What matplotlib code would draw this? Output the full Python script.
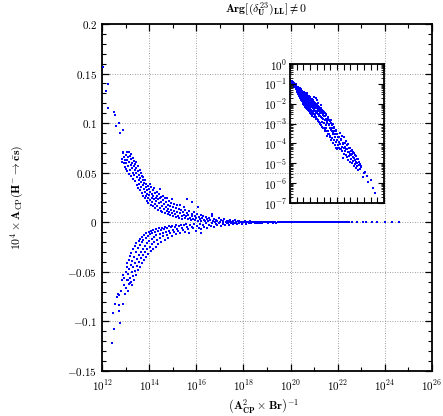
"""
Assimetria CP no canal H- -> c s (grafico principal + inset em log-log)
"""
import numpy as np
import matplotlib
matplotlib.use('Agg')
import matplotlib.pyplot as plt
from matplotlib.ticker import FixedLocator, FuncFormatter, LogLocator, MultipleLocator, NullFormatter

plt.rcParams['mathtext.fontset'] = 'cm'
plt.rcParams['font.family'] = 'serif'
plt.rcParams['font.serif'] = ['DejaVu Serif']

# Dados: expoente de x = (A_CP^2 x Br)^-1 e valor 10^4 x A_CP
# ramo superior (A_CP > 0)
up_logx = [12.06, 12.16, 12.27, 12.25, 12.51, 12.54, 12.58, 12.72, 12.76, 12.88,
           12.84, 12.86, 12.88, 12.90, 12.92, 12.94, 12.96, 12.98, 13.00, 13.01,
           13.03, 13.05, 13.06, 13.08, 13.10, 13.11, 13.13, 13.14, 13.16, 13.18,
           13.19, 13.21, 13.22, 13.24, 13.25, 13.27, 13.28, 13.30, 13.31, 13.33,
           13.34, 13.36, 13.37, 13.39, 13.40, 13.42, 13.43, 13.45, 13.46, 13.48,
           13.49, 13.51, 13.52, 13.54, 13.55, 13.57, 13.58, 13.60, 13.61, 13.63,
           13.64, 13.66, 13.67, 13.69, 13.70, 13.72, 13.73, 13.75, 13.76, 13.78,
           13.79, 13.81, 13.82, 13.84, 13.85, 13.87, 13.88, 13.90, 13.91, 13.93,
           13.94, 13.96, 13.97, 13.99, 14.00, 14.02, 14.03, 14.05, 14.06, 14.08,
           14.10, 14.11, 14.13, 14.15, 14.16, 14.18, 14.20, 14.21, 14.23, 14.25,
           14.26, 14.28, 14.30, 14.32, 14.33, 14.35, 14.37, 14.39, 14.40, 14.42,
           14.44, 14.46, 14.47, 14.49, 14.50, 14.52, 14.54, 14.56, 14.58, 14.60,
           14.62, 14.64, 14.66, 14.68, 14.70, 14.72, 14.74, 14.76, 14.78, 14.80,
           14.82, 14.84, 14.86, 14.88, 14.90, 14.92, 14.94, 14.96, 14.98, 15.00,
           15.03, 15.05, 15.07, 15.10, 15.12, 15.15, 15.17, 15.20, 15.22, 15.25,
           15.28, 15.30, 15.32, 15.35, 15.38, 15.40, 15.43, 15.46, 15.48, 15.50,
           15.53, 15.56, 15.60, 15.60, 15.63, 15.66, 15.70, 15.73, 15.76, 15.80,
           15.80, 15.83, 15.87, 15.90, 15.93, 15.96, 16.00, 16.03, 16.06, 16.09,
           16.10, 16.14, 16.18, 16.22, 16.26, 16.30, 16.34, 16.38, 16.42, 16.46,
           16.50, 16.55, 16.60, 16.65, 16.68, 16.72, 16.76, 16.80, 16.85, 16.90,
           16.95, 17.00, 17.06, 17.12, 17.18, 17.25, 17.30, 17.36, 17.42, 17.50,
           17.56, 17.63, 17.70, 17.76, 17.83, 17.90, 17.97, 18.05, 18.12, 18.20,
           18.28, 18.36, 18.45, 18.55, 18.65, 18.75, 18.85, 18.95, 19.05]
up_val = [0.157, 0.132, 0.139, 0.115, 0.111, 0.108, 0.0975, 0.100, 0.090, 0.093,
          0.0606, 0.064, 0.0695, 0.0713, 0.060, 0.066, 0.056, 0.0625, 0.068, 0.054,
          0.0595, 0.0705, 0.063, 0.052, 0.066, 0.057, 0.0713, 0.049, 0.061, 0.067,
          0.053, 0.058, 0.064, 0.047, 0.069, 0.055, 0.060, 0.050, 0.065, 0.044,
          0.057, 0.062, 0.048, 0.053, 0.059, 0.042, 0.050, 0.055, 0.061, 0.038,
          0.046, 0.052, 0.035, 0.057, 0.043, 0.048, 0.039, 0.053, 0.033, 0.045,
          0.050, 0.036, 0.041, 0.047, 0.030, 0.038, 0.043, 0.027, 0.046, 0.034,
          0.040, 0.024, 0.031, 0.043, 0.036, 0.027, 0.039, 0.021, 0.033, 0.029,
          0.037, 0.024, 0.019, 0.034, 0.028, 0.039, 0.022, 0.031, 0.017, 0.036,
          0.025, 0.029, 0.020, 0.033, 0.016, 0.027, 0.023, 0.035, 0.018, 0.030,
          0.014, 0.025, 0.021, 0.031, 0.016, 0.027, 0.012, 0.023, 0.019, 0.029,
          0.014, 0.034, 0.024, 0.011, 0.020, 0.026, 0.016, 0.010, 0.022, 0.027,
          0.013, 0.018, 0.024, 0.009, 0.015, 0.020, 0.011, 0.025, 0.017, 0.008,
          0.013, 0.021, 0.010, 0.016, 0.007, 0.019, 0.012, 0.023, 0.009, 0.015,
          0.006, 0.018, 0.011, 0.008, 0.014, 0.005, 0.017, 0.010, 0.0065, 0.013,
          0.0045, 0.017, 0.009, 0.012, 0.006, 0.0035, 0.010, 0.015, 0.0075, 0.0045,
          0.012, 0.006, 0.023, 0.0095, 0.003, 0.0075, 0.011, 0.0045, 0.0028, 0.020,
          0.0085, 0.006, 0.0035, 0.010, 0.0022, 0.0065, 0.0045, 0.0085, 0.0018, 0.015,
          0.0055, 0.003, 0.0075, 0.0015, 0.0048, 0.0068, 0.0025, 0.0012, 0.0055, 0.0035,
          0.0009, 0.0045, 0.0022, 0.006, 0.0082, 0.0012, 0.0035, 0.0007, 0.0028, 0.0018,
          0.0042, 0.0006, 0.0024, 0.0011, 0.0033, 0.0005, 0.0017, 0.0008, 0.0026, 0.0004,
          0.0013, 0.0020, 0.0003, 0.0009, 0.0015, 0.0002, 0.0006, 0.0011, 0.00015, 0.0004,
          0.0008, 0.0001, 0.0003, 0.0006, 0.00008, 0.0002, 0.0004, 0.00005, 0.00015]

# ramo inferior (A_CP < 0)
lo_logx = [12.42, 12.50, 12.78, 12.45, 12.74, 12.57, 12.71, 12.90, 12.62, 12.72,
           12.79, 12.66, 12.85, 12.98, 12.95, 12.93, 12.90, 13.19, 13.26, 13.12,
           13.00, 13.02, 13.04, 13.06, 13.08, 13.09, 13.11, 13.13, 13.15, 13.16,
           13.18, 13.20, 13.21, 13.23, 13.25, 13.26, 13.28, 13.30, 13.31, 13.33,
           13.35, 13.36, 13.38, 13.40, 13.41, 13.43, 13.45, 13.46, 13.48, 13.50,
           13.51, 13.53, 13.55, 13.56, 13.58, 13.60, 13.61, 13.63, 13.65, 13.66,
           13.68, 13.70, 13.71, 13.73, 13.75, 13.76, 13.78, 13.80, 13.81, 13.83,
           13.85, 13.86, 13.88, 13.90, 13.92, 13.94, 13.96, 13.98, 14.00, 14.02,
           14.04, 14.06, 14.08, 14.10, 14.12, 14.14, 14.16, 14.18, 14.20, 14.22,
           14.24, 14.27, 14.29, 14.31, 14.34, 14.36, 14.39, 14.41, 14.44, 14.46,
           14.49, 14.52, 14.54, 14.57, 14.60, 14.63, 14.66, 14.68, 14.71, 14.74,
           14.77, 14.80, 14.83, 14.86, 14.89, 14.92, 14.95, 14.98, 15.01, 15.04,
           15.08, 15.12, 15.15, 15.19, 15.23, 15.27, 15.31, 15.35, 15.39, 15.43,
           15.47, 15.52, 15.56, 15.60, 15.70, 15.65, 15.75, 15.80, 15.86, 16.20,
           15.92, 15.98, 16.04, 16.10, 16.16, 16.22, 16.28, 16.34, 16.40, 16.47,
           16.54, 16.61, 16.68, 16.75, 16.82, 16.90, 16.98, 17.06, 17.14, 17.22,
           17.30, 17.38, 17.46, 17.55, 17.64, 17.73, 17.82, 17.92, 18.02, 18.12,
           18.22, 18.33, 18.44, 18.56, 18.68, 18.80, 18.92, 19.04]
lo_val = [-0.1216, -0.108, -0.102, -0.0917, -0.089, -0.082, -0.083, -0.0826, -0.0755, -0.0732,
          -0.0691, -0.0720, -0.0584, -0.0725, -0.063, -0.0564, -0.053, -0.0614, -0.063, -0.058,
          -0.050, -0.066, -0.045, -0.058, -0.041, -0.069, -0.052, -0.038, -0.062, -0.047,
          -0.034, -0.056, -0.043, -0.060, -0.031, -0.050, -0.039, -0.054, -0.027, -0.045,
          -0.035, -0.058, -0.024, -0.041, -0.049, -0.030, -0.053, -0.021, -0.037, -0.044,
          -0.026, -0.048, -0.019, -0.033, -0.040, -0.023, -0.045, -0.017, -0.030, -0.036,
          -0.020, -0.041, -0.015, -0.027, -0.033, -0.018, -0.038, -0.013, -0.024, -0.030,
          -0.016, -0.035, -0.011, -0.021, -0.027, -0.014, -0.032, -0.010, -0.019, -0.025,
          -0.012, -0.029, -0.0085, -0.017, -0.022, -0.011, -0.027, -0.008, -0.015, -0.020,
          -0.010, -0.025, -0.007, -0.013, -0.018, -0.0085, -0.022, -0.006, -0.012, -0.016,
          -0.0075, -0.020, -0.0055, -0.011, -0.014, -0.0065, -0.018, -0.0048, -0.0095, -0.0125,
          -0.0058, -0.016, -0.0042, -0.0085, -0.011, -0.005, -0.014, -0.0036, -0.0075, -0.0098,
          -0.0043, -0.012, -0.003, -0.0065, -0.0088, -0.0037, -0.011, -0.0025, -0.0058, -0.0079,
          -0.0031, -0.0098, -0.0021, -0.005, -0.011, -0.007, -0.0026, -0.0045, -0.0062, -0.011,
          -0.0017, -0.0085, -0.0038, -0.0053, -0.0014, -0.0072, -0.0031, -0.0045, -0.0011, -0.006,
          -0.0025, -0.0038, -0.0008, -0.0048, -0.002, -0.003, -0.0006, -0.0037, -0.0015, -0.0024,
          -0.0004, -0.0029, -0.0011, -0.0018, -0.0003, -0.0021, -0.0008, -0.0013, -0.0002, -0.0015,
          -0.0006, -0.0009, -0.0001, -0.0007, -0.0003, -0.00045, -0.00006, -0.0003]

# cauda em torno de zero
tail_logx = [17.15, 17.35, 17.45, 17.60, 17.80, 17.95, 18.10, 18.25, 18.40, 18.50,
             18.60, 18.70, 18.90, 19.00, 19.10, 19.15, 19.20, 19.25, 19.30, 19.35,
             19.40, 19.45, 19.50, 19.55, 19.60, 19.65, 19.70, 19.75, 19.80, 19.85,
             19.90, 19.95, 20.00, 20.05, 20.10, 20.15, 20.20, 20.25, 20.30, 20.35,
             20.40, 20.45, 20.50, 20.55, 20.60, 20.65, 20.70, 20.75, 20.80, 20.85,
             20.90, 20.95, 21.00, 21.05, 21.10, 21.15, 21.20, 21.25, 21.30, 21.35,
             21.40, 21.45, 21.50, 21.55, 21.60, 21.65, 21.70, 21.75, 21.80, 21.85,
             21.90, 21.95, 22.00, 22.05, 22.10, 22.17, 22.25, 22.30, 22.40, 22.44,
             22.50, 22.60, 22.80, 23.07, 23.20, 23.44, 23.65, 24.00, 24.30, 24.60]
tail_val = [4e-4, -6e-4, 2.5e-4, -4e-4, 3e-4, -2.5e-4, 5e-4, -1.8e-4, 3.2e-4, -4e-4,
            1.5e-4, -2.2e-4, 1.2e-4, -1.5e-4, 2.0e-4, 8e-5, -6e-5, -2.2e-4, 1.2e-4, 6e-5,
            -3.5e-4, -9e-5, 5e-5, 1.6e-4, -1.5e-4, -5e-5, 2.5e-4, 7e-5, -4e-5, -1.1e-4,
            9e-5, -1.8e-5, -2e-4, 6e-5, 3e-5, -1e-4, -7e-5, 4e-5, 1.3e-4, -5.5e-5,
            -2.5e-5, 8e-5, 5e-5, -2e-5, -9e-5, 3.8e-5, 1.5e-5, -6e-5, -3.5e-5, 2.2e-5,
            6e-5, -3e-5, -1.2e-5, 4e-5, 2.5e-5, -1.6e-5, -4.5e-5, 2.8e-5, 1e-5, -3.5e-5,
            -2e-5, 1.3e-5, 3.2e-5, -1.8e-5, -7e-6, 2.5e-5, 1.4e-5, -9e-6, -2.2e-5, 1.2e-5,
            6e-6, -1.6e-5, -1e-5, 7e-6, 1.6e-5, -4.5e-6, -1.1e-5, 8e-6, 9e-6, -5e-6,
            -7e-6, 6.5e-6, -2.1e-6, 3.3e-6, -3.5e-6, 2.2e-6, -1.2e-6, 1.5e-6, -6e-7, 3.1e-7]

logx = np.array(up_logx + lo_logx + tail_logx)
acp = np.array(up_val + lo_val + tail_val)
x = 10.0**logx

# Figura
fig = plt.figure(figsize=(4.43, 4.16), dpi=100)
ax = fig.add_axes([102/443, 45/416, 330/443, 347/416])
ax.scatter(x, acp, s=3, marker='s', c='blue', linewidths=0, zorder=3)
ax.set_xscale('log')
ax.set_xlim(1e12, 1e26)
ax.set_ylim(-0.15, 0.2)

ax.xaxis.set_major_locator(FixedLocator([10.0**k for k in range(12, 27, 2)]))
ax.xaxis.set_minor_locator(FixedLocator([10.0**k for k in range(13, 26, 2)]))
ax.xaxis.set_minor_formatter(NullFormatter())
ax.xaxis.set_major_formatter(FuncFormatter(lambda v, p: r'$10^{%d}$' % round(np.log10(v))))
ax.yaxis.set_major_locator(MultipleLocator(0.05))
ax.yaxis.set_minor_locator(MultipleLocator(0.01))
ax.yaxis.set_major_formatter(FuncFormatter(lambda v, p: '$0$' if abs(v) < 1e-9 else r'$%g$' % v))

ax.tick_params(which='both', direction='in', top=True, right=True, labelsize=8)
ax.tick_params(which='major', length=5, width=0.9)
ax.tick_params(which='minor', length=3, width=0.8)
ax.tick_params(axis='x', pad=5)
ax.grid(True, which='major', linestyle=(0, (1, 2)), color='gray', linewidth=0.6)
for s in ax.spines.values():
    s.set_linewidth(1.3)

ax.set_xlabel(r'$\left(\mathbf{A}^{\mathbf{2}}_{\mathbf{CP}}\times\mathbf{Br}\right)^{-1}$', fontsize=8.5)
ax.xaxis.set_label_coords(0.49, -0.075)
ax.set_ylabel(r'$\mathbf{10^4}\times\mathbf{A}_{\rm CP}(\mathbf{H}^{-}\rightarrow\bar{\mathbf{c}}\mathbf{s})$', fontsize=8.5)
ax.yaxis.set_label_coords(-0.23, 0.5)
fig.text(266/443, 1 - 9/416, r'$\mathbf{Arg}[(\delta^{\mathbf{23}}_{\mathbf{U}})_{\mathbf{LL}}]\neq\mathbf{0}$',
         ha='center', va='center', fontsize=8.5)

# Inset: |A_CP| em escala log-log
axin = fig.add_axes([290/443, (416 - 203)/416, 94/443, 139/416], facecolor='none')
axin.scatter(x, np.abs(acp), s=3, marker='s', c='blue', linewidths=0)
axin.set_xscale('log')
axin.set_yscale('log')
axin.set_xlim(1e12, 1e26)
axin.set_ylim(1e-7, 1)
axin.xaxis.set_major_locator(FixedLocator([10.0**k for k in range(12, 27)]))
axin.xaxis.set_minor_locator(FixedLocator([]))
axin.xaxis.set_major_formatter(NullFormatter())
axin.yaxis.set_major_locator(FixedLocator([10.0**k for k in range(-7, 1)]))
axin.yaxis.set_minor_locator(LogLocator(base=10, subs=np.arange(2, 10), numticks=20))
axin.yaxis.set_minor_formatter(NullFormatter())
axin.yaxis.set_major_formatter(FuncFormatter(lambda v, p: r'$10^{%d}$' % round(np.log10(v))))
axin.tick_params(which='both', direction='in', top=True, right=True, labelsize=8)
axin.tick_params(which='major', length=4, width=0.8)
axin.tick_params(which='minor', length=2, width=0.6)
axin.tick_params(axis='y', pad=2)
for s in axin.spines.values():
    s.set_linewidth(1.3)

fig.savefig('out.png', dpi=100)
